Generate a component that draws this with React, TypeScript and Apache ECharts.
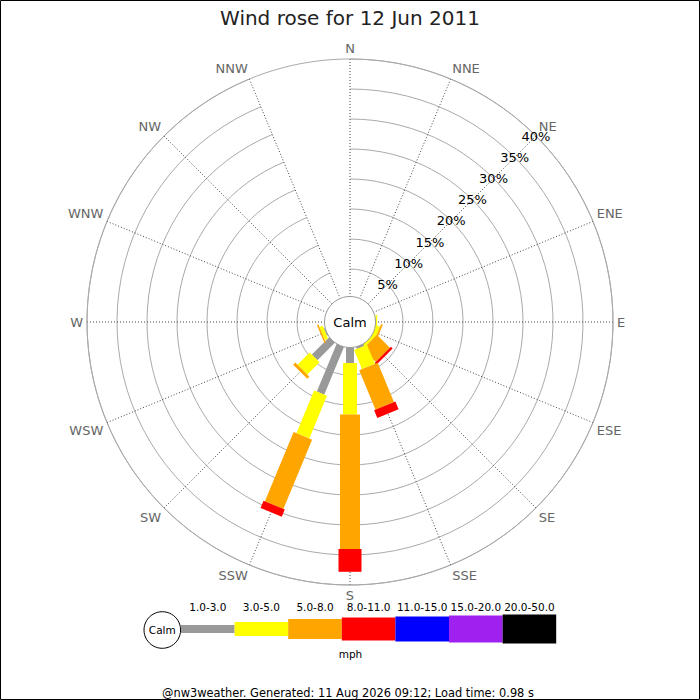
import React, { useEffect, useRef } from 'react';
import * as echarts from 'echarts';

const titleText = 'Wind rose for 12 Jun 2011';
const footerText = '@nw3weather. Generated: 11 Aug 2026 09:12; Load time: 0.98 s';
const unitText = 'mph';
const calmText = 'Calm';

const directions = ['N', 'NNE', 'NE', 'ENE', 'E', 'ESE', 'SE', 'SSE', 'S', 'SSW', 'SW', 'WSW', 'W', 'WNW', 'NW', 'NNW'];
const speedClasses = ['1.0-3.0', '3.0-5.0', '5.0-8.0', '8.0-11.0', '11.0-15.0', '15.0-20.0', '20.0-50.0'];
const classColors = ['#999999', '#ffff00', '#ffa500', '#ff0000', '#0000ff', '#a020f0', '#000000'];

// percentage of time per direction (N ... NNW) for each speed class
const speed1to3 = [0, 0, 0, 0, 0.4, 0.3, 0.3, 0.75, 3.0, 9.0, 4.5, 0.6, 0, 0, 0, 0];
const speed3to5 = [0, 0, 0, 0, 0.3, 0.8, 0.55, 3.45, 8.6, 7.7, 2.9, 0.6, 0, 0, 0, 0];
const speed5to8 = [0, 0, 0, 0, 0, 0.3, 3.05, 7.1, 22.4, 12.5, 0.5, 0.25, 0, 0, 0, 0];
const speed8to11 = [0, 0, 0, 0, 0, 0, 0.4, 1.4, 3.8, 1.3, 0, 0, 0, 0, 0, 0];
const speed11to15 = [0, 0, 0, 0, 0, 0, 0, 0, 0, 0, 0, 0, 0, 0, 0, 0];
const speed15to20 = [0, 0, 0, 0, 0, 0, 0, 0, 0, 0, 0, 0, 0, 0, 0, 0];
const speed20to50 = [0, 0, 0, 0, 0, 0, 0, 0, 0, 0, 0, 0, 0, 0, 0, 0];
const classValues = [speed1to3, speed3to5, speed5to8, speed8to11, speed11to15, speed15to20, speed20to50];

const radiusMax = 40;
const radiusStep = 5;

const FONT = 'DejaVu Sans';
const barWidths = [8, 14, 20, 23, 25, 27, 29];

function buildBarData() {
  const out: number[][] = [];
  directions.forEach((_, d) => {
    let cum = 0;
    classValues.forEach((arr, c) => {
      const v = arr[d];
      if (v > 0) {
        out.push([cum, d, cum + v, c]);
        cum += v;
      }
    });
  });
  return out;
}

export default function App() {
  const ref = useRef<HTMLDivElement>(null);
  useEffect(() => {
    document.body.style.margin = '0';
    if (!ref.current) return;
    const chart = echarts.init(ref.current, undefined, { renderer: 'svg' });
    const cx = 350;
    const cy = 322;

    const legendX0 = 181;
    const legendW = 53.6;
    const legendY = 629;
    const legendEls: any[] = [];
    legendEls.push({
      type: 'circle', shape: { cx: 162.3, cy: 630, r: 18.3 },
      style: { fill: '#fff', stroke: '#000', lineWidth: 1 }, z: 100,
    });
    legendEls.push({
      type: 'text', x: 162.3, y: 630,
      style: { text: calmText, fontSize: 10.5, fontFamily: FONT, fill: '#000', align: 'center', verticalAlign: 'middle' }, z: 101,
    });
    speedClasses.forEach((name, i) => {
      const h = barWidths[i];
      legendEls.push({
        type: 'rect', shape: { x: legendX0 + i * legendW, y: legendY - h / 2, width: legendW, height: h },
        style: { fill: classColors[i] }, z: 100,
      });
      legendEls.push({
        type: 'text', x: legendX0 + i * legendW + legendW / 2, y: 607,
        style: { text: name, fontSize: 10.5, fontFamily: FONT, fill: '#000', align: 'center', verticalAlign: 'middle' }, z: 101,
      });
    });
    legendEls.push({
      type: 'text', x: 350.5, y: 653.5,
      style: { text: unitText, fontSize: 10.5, fontFamily: FONT, fill: '#000', align: 'center', verticalAlign: 'middle' }, z: 101,
    });
    legendEls.push({
      type: 'text', x: 348, y: 692.5,
      style: { text: footerText, fontSize: 11.4, fontFamily: FONT, fill: '#000', align: 'center', verticalAlign: 'middle' }, z: 101,
    });

    const option: any = {
      animation: false,
      backgroundColor: '#ffffff',
      textStyle: { fontFamily: FONT },
      title: {
        text: titleText, left: 'center', top: 3,
        textStyle: { fontSize: 20, fontWeight: 'normal', color: '#222', fontFamily: FONT },
      },
      polar: [
        { center: [cx, cy], radius: [23, 263] },
        { center: [cx, cy], radius: [23, 263] },
      ],
      angleAxis: [
        {
          polarIndex: 0, type: 'category', data: directions, boundaryGap: false,
          startAngle: 90, clockwise: true,
          axisLine: { show: true, lineStyle: { color: '#aaaaaa', width: 1 } },
          axisTick: { show: false },
          axisLabel: { show: true, interval: 0, margin: 4, fontSize: 13, color: '#666', fontFamily: FONT },
          splitLine: { show: true, interval: 0, lineStyle: { color: '#444', width: 1, type: [1, 2] } },
        },
        { polarIndex: 1, type: 'value', startAngle: 45, min: 0, max: 360, show: false },
      ],
      radiusAxis: [
        {
          polarIndex: 0, type: 'value', min: 0, max: radiusMax, interval: radiusStep,
          axisLine: { show: false }, axisTick: { show: false }, axisLabel: { show: false },
          splitLine: { show: true, lineStyle: { color: '#aaaaaa', width: 1 } },
        },
        {
          polarIndex: 1, type: 'value', min: 0, max: radiusMax, interval: radiusStep,
          axisLine: { show: false }, axisTick: { show: false }, splitLine: { show: false },
          axisLabel: {
            show: true, margin: 0, align: 'center', verticalAlign: 'middle', showMinLabel: false,
            fontSize: 13, color: '#000', fontFamily: FONT,
            formatter: (v: number) => (v === 0 ? '' : v + '%'),
          },
          z: 50,
        },
      ],
      series: [
        {
          type: 'custom', coordinateSystem: 'polar', polarIndex: 0,
          encode: { radius: [0, 2], angle: 1 },
          data: buildBarData(),
          renderItem: (params: any, api: any) => {
            const r0 = api.value(0);
            const d = api.value(1);
            const r1 = api.value(2);
            const c = api.value(3);
            const p0 = api.coord([r0, d]);
            const p1 = api.coord([r1, d]);
            const dx = p1[0] - p0[0];
            const dy = p1[1] - p0[1];
            const len = Math.hypot(dx, dy);
            if (!len) return null;
            const hw = barWidths[c] / 2;
            const nx = (-dy / len) * hw;
            const ny = (dx / len) * hw;
            return {
              type: 'polygon',
              shape: {
                points: [
                  [p0[0] + nx, p0[1] + ny],
                  [p1[0] + nx, p1[1] + ny],
                  [p1[0] - nx, p1[1] - ny],
                  [p0[0] - nx, p0[1] - ny],
                ],
              },
              style: { fill: classColors[c] },
            };
          },
          z: 5,
        },
      ],
      graphic: [
        {
          type: 'circle', shape: { cx, cy, r: 25.5 },
          style: { fill: '#fff', stroke: '#999', lineWidth: 1 }, z: 100,
        },
        {
          type: 'text', x: cx, y: cy,
          style: { text: calmText, fontSize: 13, fontFamily: FONT, fill: '#000', align: 'center', verticalAlign: 'middle' }, z: 101,
        },
        ...legendEls,
        {
          type: 'rect', shape: { x: 0.5, y: 0.5, width: 699, height: 699 },
          style: { fill: 'none', stroke: '#000', lineWidth: 1 }, z: 120,
        },
      ],
    };
    chart.setOption(option);
    return () => chart.dispose();
  }, []);
  return <div ref={ref} style={{ width: 700, height: 700 }} />;
}
